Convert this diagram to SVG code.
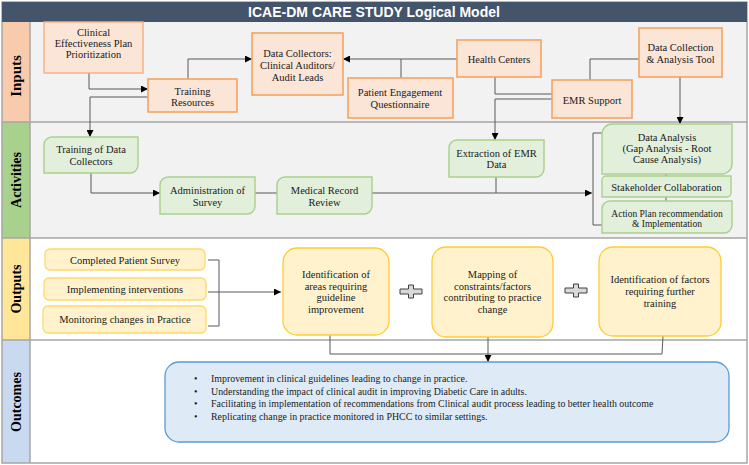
<svg xmlns="http://www.w3.org/2000/svg" width="749" height="465" viewBox="0 0 749 465">
<defs>
<marker id="arr" viewBox="0 0 10 10" refX="10" refY="5" markerWidth="7" markerHeight="7" markerUnits="userSpaceOnUse" orient="auto"><path d="M0,0 L10,5 L0,10 z" fill="#000"/></marker>
<style>
text{font-family:"Liberation Serif","Times New Roman",serif;font-size:10.5px;fill:#1a1a1a;text-anchor:middle}
.lane{font-weight:bold;font-size:14px;fill:#000}
.title{font-family:"Liberation Sans",Arial,sans-serif;font-weight:bold;font-size:14px;fill:#fff}
.in{fill:#FBE5D6;stroke:#F4B183;stroke-width:1.4}
.act{fill:#E2EFDA;stroke:#A9D18E;stroke-width:1.4}
.out{fill:#FFF2CC;stroke:#FFD966;stroke-width:1.3}
.big{fill:#FFF2CC;stroke:#FFCC33;stroke-width:1.3}
.oc{fill:#DEEBF7;stroke:#5B9BD5;stroke-width:1.3}
.c{fill:none;stroke:#595959;stroke-width:1}
.a{marker-end:url(#arr)}
.sep{stroke:#A6A6A6;stroke-width:1.5;fill:none}
.plus{fill:#D9D9D9;stroke:#404040;stroke-width:1}
.bl{text-anchor:start;font-size:9.9px}
</style>
</defs>
<rect x="0" y="0" width="749" height="465" fill="#fff"/>
<g id="lanes">
<rect x="30" y="22" width="717" height="100" fill="#F2F2F2"/>
<rect x="30" y="122" width="717" height="116" fill="#F2F2F2"/>
<rect x="30" y="238" width="717" height="102" fill="#FFFFFF"/>
<rect x="30" y="340" width="717" height="123" fill="#FFFFFF"/>
<rect x="2" y="22" width="28" height="100" fill="#F8CBAD"/>
<rect x="2" y="122" width="28" height="116" fill="#A9D18E"/>
<rect x="2" y="238" width="28" height="102" fill="#FFE699"/>
<rect x="2" y="340" width="28" height="123" fill="#C9DAF0"/>
<path class="sep" d="M2,122 H747 M2,238 H747 M2,340 H747 M30,22 V463"/>
<rect x="2" y="2" width="745" height="461" class="sep"/>
<text class="lane" transform="translate(21,76) rotate(-90)" style="font-size:15px">Inputs</text>
<text class="lane" transform="translate(21,180) rotate(-90)">Activities</text>
<text class="lane" transform="translate(21,289) rotate(-90)">Outputs</text>
<text class="lane" transform="translate(21,402) rotate(-90)">Outcomes</text>
</g>
<g id="title">
<rect x="2" y="2" width="745" height="20" fill="#44546A"/>
<text class="title" x="374" y="17">ICAE-DM CARE STUDY Logical Model</text>
</g>
<g id="connectors">
<path class="c a" d="M89,73 V89 H148"/>
<path class="c a" d="M188,79 V59 H252"/>
<path class="c a" d="M148,97 H90 V137"/>
<path class="c a" d="M457,59 H343"/>
<path class="c" d="M401,59 V78"/>
<path class="c" d="M495,77 V94 H552"/>
<path class="c a" d="M552,99 H495 V140"/>
<path class="c" d="M639,59 H590 V80"/>
<path class="c a" d="M680,77 V124"/>
<path class="c a" d="M91,173 V193 H160"/>
<path class="c" d="M255,193 H277"/>
<path class="c a" d="M372,193 H592"/>
<path class="c" d="M496,177 V193"/>
<path class="c" d="M602,133 H593 V225 H602"/>
<path class="c" d="M666,174 V176 M666,197 V201"/>
<path class="c" d="M208,260 H219 V326 H208"/>
<path class="c a" d="M208,292 H281"/>
<path class="c" d="M330,335 V354 H662 L663,336"/>
<path class="c a" d="M488,337 V362"/>
</g>
<g id="n-clinical"><rect class="in" x="44" y="22" width="99" height="51"/>
<text x="93.5" y="36">Clinical</text><text x="93.5" y="47">Effectiveness Plan</text><text x="93.5" y="58">Prioritization</text></g>
<g id="n-training-res"><rect class="in" x="148" y="79" width="89" height="33" style="stroke:#F4A460;stroke-width:1.6"/>
<text x="192.5" y="94.5">Training</text><text x="192.5" y="105.5">Resources</text></g>
<g id="n-collectors"><rect class="in" x="252" y="33" width="91" height="62" style="stroke:#F4A460;stroke-width:1.6"/>
<text x="297.5" y="57">Data Collectors:</text><text x="297.5" y="69">Clinical Auditors/</text><text x="297.5" y="80.5">Audit Leads</text></g>
<g id="n-questionnaire"><rect class="in" x="348" y="78" width="105" height="40" style="stroke:#F4A460;stroke-width:1.6"/>
<text x="400" y="96">Patient Engagement</text><text x="400" y="108">Questionnaire</text></g>
<g id="n-health"><rect class="in" x="457" y="40" width="84" height="37" style="stroke:#F4A460;stroke-width:1.6"/>
<text x="499" y="63">Health Centers</text></g>
<g id="n-emr"><rect class="in" x="552" y="80" width="80" height="38" style="stroke:#F4A460;stroke-width:1.6"/>
<text x="592" y="104">EMR Support</text></g>
<g id="n-tool"><rect class="in" x="639" y="28" width="83" height="49" style="stroke:#F4A460;stroke-width:1.6"/>
<text x="680.5" y="51">Data Collection</text><text x="680.5" y="63">&amp; Analysis Tool</text></g>
<g id="n-training-dc"><path class="act" d="M52,137 H138 V165 A8,8 0 0 1 130,173 H44 V145 A8,8 0 0 1 52,137 Z"/>
<text x="91" y="153">Training of Data</text><text x="91" y="165">Collectors</text></g>
<g id="n-admin"><path class="act" d="M168,177 H255 V206 A8,8 0 0 1 247,214 H160 V185 A8,8 0 0 1 168,177 Z"/>
<text x="207.5" y="194">Administration of</text><text x="207.5" y="206">Survey</text></g>
<g id="n-medical"><path class="act" d="M285,177 H372 V206 A8,8 0 0 1 364,214 H277 V185 A8,8 0 0 1 285,177 Z"/>
<text x="324.5" y="194">Medical Record</text><text x="324.5" y="206">Review</text></g>
<g id="n-extraction"><path class="act" d="M457,140 H544 V169 A8,8 0 0 1 536,177 H449 V148 A8,8 0 0 1 457,140 Z"/>
<text x="496.5" y="157">Extraction of EMR</text><text x="496.5" y="168">Data</text></g>
<g id="n-analysis"><path class="act" d="M612,124 H732 V164 A10,10 0 0 1 722,174 H602 V134 A10,10 0 0 1 612,124 Z"/>
<text x="667" y="141">Data Analysis</text><text x="667" y="152">(Gap Analysis - Root</text><text x="667" y="163">Cause Analysis)</text></g>
<g id="n-stakeholder"><path class="act" d="M606,176 H731 V193 A4,4 0 0 1 727,197 H602 V180 A4,4 0 0 1 606,176 Z"/>
<text x="666.5" y="190.5">Stakeholder Collaboration</text></g>
<g id="n-action"><path class="act" d="M610,201 H732 V225 A8,8 0 0 1 724,233 H602 V209 A8,8 0 0 1 610,201 Z"/>
<text x="667" y="216.5" style="font-size:9.5px">Action Plan recommendation</text><text x="667" y="226.5" style="font-size:9.5px">&amp; Implementation</text></g>
<g id="n-survey"><rect class="out" x="45" y="249" width="160" height="21" rx="5"/>
<text x="125" y="263.5">Completed Patient Survey</text></g>
<g id="n-interventions"><rect class="out" x="44" y="278" width="162" height="22" rx="5"/>
<text x="125" y="292.5">Implementing interventions</text></g>
<g id="n-monitoring"><rect class="out" x="43" y="306" width="163" height="27" rx="5"/>
<text x="125" y="323">Monitoring changes in Practice</text></g>
<g id="n-ident-areas"><rect class="big" x="283" y="248" width="106" height="87" rx="14"/>
<text x="336" y="278">Identification of</text><text x="336" y="289.5">areas requiring</text><text x="336" y="301">guideline</text><text x="336" y="312.5">improvement</text></g>
<g id="plus1"><path class="plus" d="M408.5,285 H413.5 V289 H422 V294 H413.5 V298 H408.5 V294 H400 V289 H408.5 Z"/></g>
<g id="n-mapping"><rect class="big" x="432" y="247" width="121" height="90" rx="14"/>
<text x="492.5" y="278">Mapping of</text><text x="492.5" y="289.5">constraints/factors</text><text x="492.5" y="301">contributing to practice</text><text x="492.5" y="312.5">change</text></g>
<g id="plus2"><path class="plus" d="M573.5,284 H578.5 V288 H587 V293 H578.5 V297 H573.5 V293 H565 V288 H573.5 Z"/></g>
<g id="n-ident-factors"><rect class="big" x="599" y="247" width="122" height="89" rx="14"/>
<text x="660" y="283">Identification of factors</text><text x="660" y="295">requiring further</text><text x="660" y="307">training</text></g>
<g id="n-outcomes"><rect class="oc" x="165" y="362" width="564" height="80" rx="14"/>
<text class="bl" x="194" y="382">•</text><text class="bl" x="211" y="382">Improvement in clinical guidelines leading to change in practice.</text>
<text class="bl" x="194" y="394.5">•</text><text class="bl" x="211" y="394.5">Understanding the impact of clinical audit in improving Diabetic Care in adults.</text>
<text class="bl" x="194" y="407">•</text><text class="bl" x="211" y="407">Facilitating in implementation of recommendations from Clinical audit process leading to better health outcome</text>
<text class="bl" x="194" y="419.5">•</text><text class="bl" x="211" y="419.5">Replicating change in practice monitored in PHCC to similar settings.</text></g>
</svg>
